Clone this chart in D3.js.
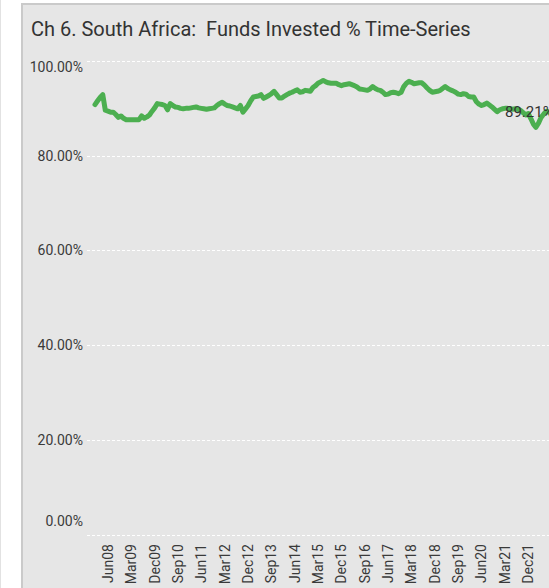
<!DOCTYPE html>
<html>
<head>
<meta charset="utf-8">
<script src="https://cdn.jsdelivr.net/npm/d3@7"></script>
<style>
  html, body { margin: 0; padding: 0; background: #fff; overflow: hidden; }
  svg { display: block; font-family: Roboto, sans-serif; }
</style>
</head>
<body>
<svg width="549" height="588"></svg>
<script>
// monthly series, first value = Jan 2008
var firstMonth = "2008-01";
var fundsInvested = [
    90.8, 91.6, 92.3, 92.9, 89.6, 89.4, 89.2, 89.2, 88.7, 88.1, 88.4, 87.9, // 2008
    87.6, 87.6, 87.6, 87.6, 87.6, 87.6, 88.4, 87.9, 88.2, 88.6, 89.4, 90.1, // 2009
    91.0, 90.9, 90.8, 90.6, 89.7, 91.0, 90.6, 90.3, 90.2, 90.0, 89.9, 90.0, // 2010
    90.0, 90.1, 90.2, 90.3, 90.1, 90.0, 89.9, 89.8, 89.9, 90.0, 90.1, 90.6, // 2011
    91.0, 91.3, 90.9, 90.6, 90.5, 90.3, 90.1, 89.9, 90.6, 89.2, 89.9, 90.6, // 2012
    91.6, 92.4, 92.5, 92.6, 92.9, 92.1, 92.4, 92.7, 93.1, 93.6, 92.9, 92.2, // 2013
    92.2, 92.6, 92.9, 93.2, 93.4, 93.7, 93.9, 93.4, 93.5, 93.8, 93.7, 93.6, // 2014
    94.4, 94.8, 95.3, 95.6, 95.9, 95.6, 95.4, 95.3, 95.3, 95.3, 95.0, 94.8, // 2015
    95.0, 95.1, 95.2, 95.0, 94.8, 94.5, 94.1, 94.0, 93.9, 93.8, 94.1, 94.6, // 2016
    94.2, 93.9, 93.8, 93.4, 92.9, 93.0, 93.3, 93.4, 93.3, 93.1, 93.4, 94.6, // 2017
    95.3, 95.7, 95.5, 95.2, 95.3, 95.4, 95.4, 94.9, 94.3, 93.8, 93.4, 93.5, // 2018
    93.6, 93.8, 94.2, 94.6, 94.2, 93.9, 93.7, 93.4, 93.0, 92.9, 93.1, 93.0, // 2019
    92.5, 92.4, 92.4, 91.4, 90.9, 90.6, 90.8, 91.1, 90.7, 90.3, 89.8, 89.3, // 2020
    89.7, 89.9, 90.0, 90.0, 89.9, 89.8, 89.9, 89.8, 89.6, 89.1, 88.6, 88.9, // 2021
    87.8, 86.6, 86.0, 86.9, 88.1, 88.8, 89.4, 89.21                         // 2022
];
var xTickLabels = ["Jun08", "Mar09", "Dec09", "Sep10", "Jun11", "Mar12", "Dec12", "Sep13", "Jun14", "Mar15",
                   "Dec15", "Sep16", "Jun17", "Mar18", "Dec18", "Sep19", "Jun20", "Mar21", "Dec21"];
var yTicks = [0, 20, 40, 60, 80, 100];
var chartTitle = "Ch 6. South Africa:  Funds Invested % Time-Series";

(function() {
    var svg = d3.select("svg");
    var start = d3.timeParse("%Y-%m")(firstMonth);
    var parseTick = d3.timeParse("%b%y");

    var data = fundsInvested.map(function(v, i) {
        return { date: d3.timeMonth.offset(start, i), value: v };
    });

    // panel
    svg.append("line")
        .attr("x1", 0.5).attr("x2", 0.5).attr("y1", 0).attr("y2", 588)
        .attr("stroke", "#e2e2e2");
    svg.append("rect")
        .attr("x", 22).attr("y", 4)
        .attr("width", 600).attr("height", 620)
        .attr("fill", "#e6e6e6")
        .attr("stroke", "#cacaca")
        .attr("stroke-width", 2);

    svg.append("text")
        .attr("x", 31).attr("y", 36)
        .attr("fill", "#333")
        .attr("font-size", 20)
        .style("white-space", "pre")
        .attr("xml:space", "preserve")
        .text(chartTitle);

    var x = d3.scaleTime()
        .domain(d3.extent(data, function(d) { return d.date; }))
        .range([95, 549]);
    var y = d3.scaleLinear().domain([0, 100]).range([534.5, 61]);

    //Grid
    svg.append("g").selectAll("line")
        .data(yTicks)
        .enter().append("line")
          .attr("x1", 87).attr("x2", 549)
          .attr("y1", function(d) { return Math.round(y(d)) + 0.5; })
          .attr("y2", function(d) { return Math.round(y(d)) + 0.5; })
          .attr("stroke", "#fff")
          .attr("stroke-dasharray", "3,2");

    //Y labels
    var fmt = d3.format(".2f");
    svg.append("g").selectAll("text")
        .data(yTicks)
        .enter().append("text")
          .attr("x", 83)
          .attr("y", function(d) {
              var off = d === 100 ? 6 : (d === 0 ? -13 : 0);
              return y(d) + off;
          })
          .attr("dy", "0.35em")
          .attr("text-anchor", "end")
          .attr("font-size", 14)
          .attr("fill", "#3a3a3a")
          .text(function(d) { return fmt(d) + "%"; });

    //X labels
    svg.append("g").selectAll("text")
        .data(xTickLabels)
        .enter().append("text")
          .attr("transform", function(d) {
              return "translate(" + x(parseTick(d)) + ",544) rotate(-90)";
          })
          .attr("dy", "0.35em")
          .attr("text-anchor", "end")
          .attr("font-size", 14)
          .attr("fill", "#3a3a3a")
          .text(function(d) { return d; });

    //Line
    var line = d3.line()
        .x(function(d) { return x(d.date); })
        .y(function(d) { return y(d.value); });

    svg.append("path")
        .datum(data)
        .attr("d", line)
        .attr("fill", "none")
        .attr("stroke", "#4caf50")
        .attr("stroke-width", 5)
        .attr("stroke-linejoin", "round")
        .attr("stroke-linecap", "round");

    // end label, cut at the right edge as in the original
    var last = data[data.length - 1];
    svg.append("text")
        .attr("x", x(last.date) - 44)
        .attr("y", y(last.value))
        .attr("dy", "0.35em")
        .attr("font-size", 15)
        .attr("fill", "#333")
        .text(fmt(last.value) + "%");
})();
</script>
</body>
</html>
